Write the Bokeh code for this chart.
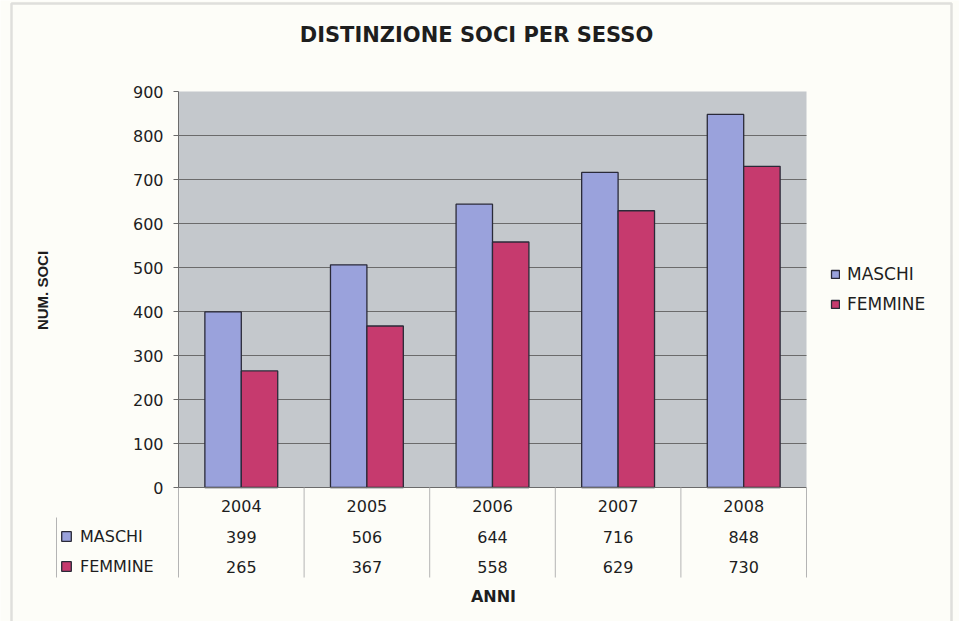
import math
from bokeh.plotting import figure
from bokeh.models import (ColumnDataSource, Range1d, FixedTicker, BoxAnnotation,
                          Legend, LegendItem, Label, LinearAxis)
from bokeh.transform import dodge
from bokeh.embed import file_html
from bokeh.resources import INLINE
from bokeh.core.properties import value

# ---------------- data ----------------
years = [2004, 2005, 2006, 2007, 2008]
maschi = [399, 506, 644, 716, 848]
femmine = [265, 367, 558, 629, 730]
series_names = ["MASCHI", "FEMMINE"]
y_ticks = [0, 100, 200, 300, 400, 500, 600, 700, 800, 900]
title_text = "DISTINZIONE SOCI PER SESSO"
x_title = "ANNI"
y_title = "NUM. SOCI"

# ---------------- layout (pixels) ----------------
W, H = 959, 621
PLOT_L, PLOT_R = 178, 806      # plot area left / right (px)
Y0_PX, PX_PER_UNIT = 487, 0.44  # pixel row of value 0, px per unit
x_lo, x_hi = years[0] - 0.5, years[-1] + 0.5
PX_PER_X = (PLOT_R - PLOT_L) / (x_hi - x_lo)


def X(sx):  # screen x -> data x (for annotation placement)
    return x_lo + (sx - PLOT_L) / PX_PER_X


def Y(sy):  # screen y -> data y
    return (Y0_PX - sy) / PX_PER_UNIT


# ---------------- style ----------------
BG = "#fdfdf8"
PLOT_BG = "#c4c8cc"
GRID = "#6b6b6b"
C_M = "#9aa2dc"
C_F = "#c63a6e"
OUTLINE = "#2a2a38"
SEP = "#b4b4b4"
TXT = "#1e1e1e"
FONT = "DejaVu Sans"
FS = "16px"

src = ColumnDataSource(data=dict(
    years=years, maschi=maschi, femmine=femmine,
    year_str=[str(y) for y in years],
    m_str=[str(v) for v in maschi],
    f_str=[str(v) for v in femmine],
))

p = figure(width=W, height=H, output_backend="svg", toolbar_location=None,
           x_range=Range1d(X(0), X(W)), y_range=Range1d(Y(H), Y(0)),
           x_axis_location=None, y_axis_location=None,
           min_border=0)
p.background_fill_color = BG
p.border_fill_color = BG
p.outline_line_color = None
p.grid.visible = False

# outer frame border
p.add_layout(BoxAnnotation(left=X(11), right=X(951), top=Y(3), bottom=Y(H + 20),
                           fill_alpha=0, line_color="#9c9c9c", line_width=2.5,
                           level="overlay"))

# gray plot area
p.add_layout(BoxAnnotation(left=x_lo, right=x_hi, bottom=y_ticks[0], top=y_ticks[-1],
                           fill_color=PLOT_BG, fill_alpha=1, line_color=None,
                           level="image"))

# horizontal grid lines
g_ticks = y_ticks[1:-1]
p.segment(x0=[x_lo] * len(g_ticks), x1=[x_hi] * len(g_ticks), y0=g_ticks, y1=g_ticks,
          line_color=GRID, line_width=1)

# y axis placed at the left edge of the plot area
ax = LinearAxis(fixed_location=x_lo, ticker=FixedTicker(ticks=y_ticks),
                bounds=(y_ticks[0], y_ticks[-1]))
ax.axis_line_color = GRID
ax.major_tick_line_color = GRID
ax.major_tick_out = 5
ax.major_tick_in = 0
ax.minor_tick_line_color = None
ax.major_label_standoff = 10
ax.major_label_text_font = FONT
ax.major_label_text_font_size = FS
ax.major_label_text_color = TXT
p.add_layout(ax, "left")

bw = 0.29
rm = p.vbar(x=dodge("years", -bw / 2), top="maschi", width=bw, source=src,
            fill_color=C_M, line_color=OUTLINE, line_width=1.3)
rf = p.vbar(x=dodge("years", bw / 2), top="femmine", width=bw, source=src,
            fill_color=C_F, line_color=OUTLINE, line_width=1.3)

# zero line
p.segment(x0=[x_lo], x1=[x_hi], y0=[0], y1=[0], line_color=GRID, line_width=1.2)

# data table below the plot
bounds = [y - 0.5 for y in years] + [years[-1] + 0.5]
p.segment(x0=bounds, y0=[0] * len(bounds), x1=bounds, y1=[Y(577)] * len(bounds),
          line_color=SEP, line_width=1)
p.segment(x0=[X(56)], y0=[Y(517)], x1=[X(56)], y1=[Y(577)], line_color=SEP, line_width=1)
row_y = [Y(505), Y(536), Y(566)]
for col, yy in zip(["year_str", "m_str", "f_str"], row_y):
    p.text(x="years", y=yy, text=col, source=src, text_align="center",
           text_baseline="middle", text_font=value(FONT), text_font_size=FS,
           text_color=TXT)


def make_legend(loc, gw, stand, fs):
    return Legend(items=[LegendItem(label=series_names[0], renderers=[rm]),
                         LegendItem(label=series_names[1], renderers=[rf])],
                  location=loc, padding=0, margin=0, spacing=10,
                  glyph_width=gw, glyph_height=gw, label_height=20,
                  label_standoff=stand, border_line_color=None,
                  background_fill_alpha=0, label_text_font=FONT,
                  label_text_font_size=fs, label_text_color=TXT)


p.add_layout(make_legend((830, H - 314), 10, 7, "17px"), "center")
p.add_layout(make_legend((60, H - 576), 12, 8, FS), "center")

p.add_layout(Label(x=X(476), y=Y(34), text=title_text, text_font=FONT,
                   text_font_style="bold", text_font_size="21px", text_color=TXT,
                   text_align="center", text_baseline="middle"))
p.add_layout(Label(x=X(493), y=Y(596), text=x_title, text_font=FONT,
                   text_font_style="bold", text_font_size="16px", text_color=TXT,
                   text_align="center", text_baseline="middle"))
p.add_layout(Label(x=X(42), y=Y(290), text=y_title, text_font="Liberation Sans",
                   text_font_style="bold", text_font_size="15px", text_color=TXT,
                   text_align="center", text_baseline="middle", angle=math.pi / 2))

open("out.html", "w").write(file_html(p, INLINE))
